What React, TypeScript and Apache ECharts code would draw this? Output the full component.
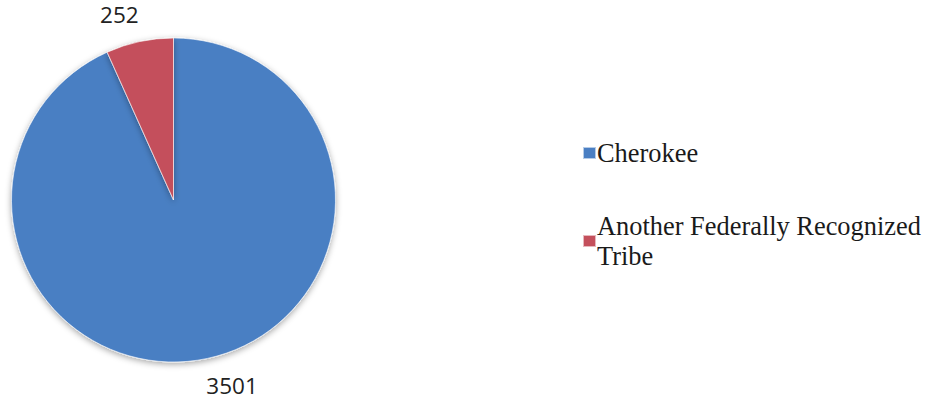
import React, { useEffect, useRef } from "react";
import * as echarts from "echarts";

const categories = ["Cherokee", "Another Federally Recognized Tribe"];
const values = [3501, 252];
const colors = ["#4a7fc3", "#c4505c"];
const legendLabels: Record<string, string> = {
  "Cherokee": "Cherokee",
  "Another Federally Recognized Tribe": "Another Federally Recognized\nTribe",
};
const labelShift = [-12, 10];

export default function App() {
  const ref = useRef<HTMLDivElement>(null);
  useEffect(() => {
    document.body.style.margin = "0";
    const chart = echarts.init(ref.current!, null, { renderer: "svg" });
    chart.setOption({
      animation: false,
      backgroundColor: "#ffffff",
      legend: {
        orient: "vertical",
        left: 577,
        top: 133,
        itemWidth: 13,
        itemHeight: 12,
        itemGap: 43,
        icon: "rect",
        data: categories,
        formatter: (name: string) => legendLabels[name] ?? name,
        textStyle: {
          fontFamily: "Liberation Serif",
          fontSize: 26.4,
          lineHeight: 30,
          color: "#1a1a1a",
          padding: [0, 0, 0, -4],
        },
      },
      series: [
        {
          type: "pie",
          center: [173.5, 200],
          radius: 162,
          startAngle: 90,
          clockwise: true,
          data: categories.map((c, i) => ({
            name: c,
            value: values[i],
            itemStyle: { color: colors[i] },
          })),
          itemStyle: {
            borderColor: "rgba(255,255,255,0.6)",
            borderWidth: 1,
            shadowBlur: 6,
            shadowOffsetY: 2,
            shadowColor: "rgba(0,0,0,0.35)",
          },
          label: {
            show: true,
            position: "outside",
            formatter: "{c}",
            fontFamily: "Open Sans",
            fontSize: 22.5,
            color: "#222222",
          },
          labelLine: { show: false, length: 28, length2: 0 },
          labelLayout: (p: any) => ({ dx: labelShift[p.dataIndex] }),
          emphasis: { disabled: true },
        },
      ],
    });
    return () => chart.dispose();
  }, []);
  return <div ref={ref} style={{ width: 934, height: 404 }} />;
}
